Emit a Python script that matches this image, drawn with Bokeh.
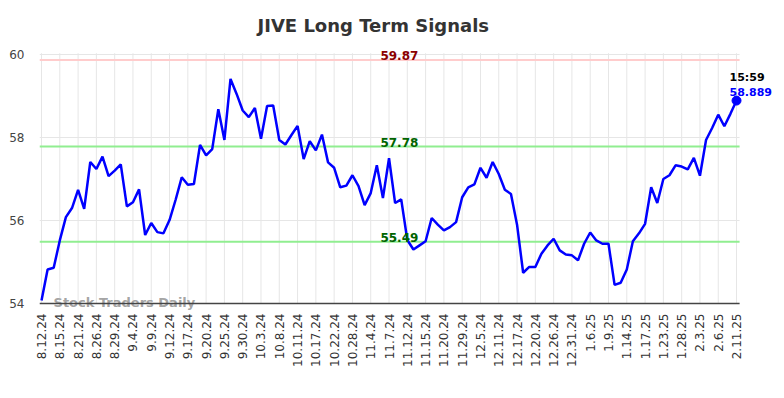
from bokeh.plotting import figure
from bokeh.models import FixedTicker, Range1d, Label
from bokeh.embed import file_html
from bokeh.resources import INLINE
from bokeh.core.properties import value
import math

title_text = "JIVE Long Term Signals"
tick_dates = ["8.12.24", "8.15.24", "8.21.24", "8.26.24", "8.29.24", "9.4.24", "9.9.24",
              "9.12.24", "9.17.24", "9.20.24", "9.25.24", "9.30.24", "10.3.24", "10.8.24",
              "10.11.24", "10.17.24", "10.22.24", "10.28.24", "11.4.24", "11.7.24",
              "11.12.24", "11.15.24", "11.20.24", "11.29.24", "12.5.24", "12.11.24",
              "12.17.24", "12.20.24", "12.26.24", "12.31.24", "1.6.25", "1.9.25", "1.14.25",
              "1.17.25", "1.23.25", "1.28.25", "2.3.25", "2.6.25", "2.11.25"]
points_per_tick = 3

prices = [54.07, 54.82, 54.86, 55.52, 56.08, 56.30, 56.74, 56.28, 57.41, 57.24,
          57.54, 57.07, 57.20, 57.35, 56.34, 56.44, 56.75, 55.65, 55.94, 55.72,
          55.69, 56.01, 56.50, 57.04, 56.86, 56.88, 57.82, 57.57, 57.72, 58.68,
          57.94, 59.41, 59.05, 58.65, 58.49, 58.71, 57.97, 58.76, 58.77, 57.94,
          57.83, 58.06, 58.28, 57.48, 57.91, 57.69, 58.07, 57.40, 57.27, 56.80,
          56.84, 57.09, 56.83, 56.37, 56.66, 57.33, 56.54, 57.50, 56.42, 56.51,
          55.53, 55.30, 55.40, 55.50, 56.06, 55.90, 55.76, 55.84, 55.96, 56.56,
          56.80, 56.87, 57.27, 57.03, 57.41, 57.12, 56.74, 56.64, 55.90, 54.74,
          54.88, 54.88, 55.20, 55.40, 55.56, 55.28, 55.18, 55.16, 55.04, 55.44,
          55.71, 55.52, 55.44, 55.44, 54.45, 54.50, 54.82, 55.50, 55.69, 55.92,
          56.80, 56.42, 57.00, 57.09, 57.33, 57.30, 57.23, 57.51, 57.08, 57.94,
          58.23, 58.55, 58.27, 58.57, 58.889]

resistance = 59.87
mid_level = 57.78
support = 55.49
last_time = "15:59"
last_label = "58.889"
y_ticks = [54, 56, 58, 60]
watermark = "Stock Traders Daily"

xs = list(range(len(prices)))
tick_pos = [i * points_per_tick for i in range(len(tick_dates))]

# plotting area extents (data units) of the visible chart box
x_lo, x_hi = -0.33, 114.5
y_lo, y_hi = 54, 60.03

p = figure(frame_width=733, frame_height=270, output_backend="svg", toolbar_location=None,
           x_range=Range1d(-0.33, 119.9), y_range=Range1d(53.831, 60.337),
           min_border_left=39, min_border_right=8, min_border_top=40, min_border_bottom=78)
p.outline_line_color = None
p.background_fill_color = "white"
p.xgrid.visible = False
p.ygrid.visible = False

p.title.text = title_text
p.title.text_font = "DejaVu Sans"
p.title.text_font_size = "18px"
p.title.text_font_style = "bold"
p.title.text_color = "#333333"
p.title.align = "left"
p.title.offset = 218

p.xaxis.ticker = FixedTicker(ticks=tick_pos)
p.xaxis.major_label_overrides = {t: d for t, d in zip(tick_pos, tick_dates)}
p.xaxis.major_label_orientation = math.pi / 2
p.xaxis.major_label_text_font = "DejaVu Sans"
p.xaxis.major_label_text_font_size = "12px"
p.xaxis.major_label_text_color = "#333333"
p.xaxis.major_tick_out = 0
p.xaxis.major_tick_in = 0
p.xaxis.minor_tick_line_color = None
p.xaxis.axis_line_color = None
p.xaxis.major_label_standoff = 3

p.yaxis.ticker = FixedTicker(ticks=y_ticks)
p.yaxis.major_label_text_font = "DejaVu Sans"
p.yaxis.major_label_text_font_size = "12px"
p.yaxis.major_label_text_color = "#444444"
p.yaxis.major_tick_out = 0
p.yaxis.major_tick_in = 0
p.yaxis.minor_tick_line_color = None
p.yaxis.axis_line_color = None
p.yaxis.major_label_standoff = 15

grid_col = "#e6e6e6"
p.segment(x0=tick_pos, y0=[y_lo] * len(tick_pos), x1=tick_pos, y1=[y_hi] * len(tick_pos),
          line_color=grid_col, line_width=1)
p.segment(x0=[x_lo] * len(y_ticks), y0=y_ticks, x1=[x_hi] * len(y_ticks), y1=y_ticks,
          line_color=grid_col, line_width=1)

levels = [resistance, mid_level, support]
level_line_cols = ["#ffcccc", "#90ee90", "#90ee90"]
level_text_cols = ["#8b0000", "#006400", "#006400"]
p.segment(x0=[x_lo] * 3, y0=levels, x1=[x_hi] * 3, y1=levels,
          line_color=level_line_cols, line_width=2)

p.text(x=[1.97], y=[y_lo], text=[watermark], text_align="left", text_baseline="middle",
       y_offset=-1, text_color="#999999", text_alpha=0.9,
       text_font=value("DejaVu Sans"), text_font_size="13px", text_font_style="bold")

p.segment(x0=[x_lo], y0=[y_lo], x1=[x_hi], y1=[y_lo], line_color="#444444", line_width=1.5)

p.line(xs, prices, line_color="#0000ff", line_width=2.5)
p.scatter([xs[-1]], [prices[-1]], size=9, color="#0000ff")

label_x = 58.7
for lvl, col in zip(levels, level_text_cols):
    p.add_layout(Label(x=label_x, y=lvl, text=f"{lvl:.2f}", text_align="center",
                       text_baseline="alphabetic", y_offset=4, text_color=col,
                       text_font="DejaVu Sans", text_font_size="12px",
                       text_font_style="bold"))

p.add_layout(Label(x=xs[-1], y=prices[-1], text=last_time, text_align="left",
                   text_baseline="alphabetic", x_offset=-7, y_offset=23, text_color="black",
                   text_font="DejaVu Sans", text_font_size="11px", text_font_style="bold"))
p.add_layout(Label(x=xs[-1], y=prices[-1], text=last_label, text_align="left",
                   text_baseline="alphabetic", x_offset=-7, y_offset=9, text_color="#0000ff",
                   text_font="DejaVu Sans", text_font_size="11px", text_font_style="bold"))

open("out.html", "w").write(file_html(p, INLINE))
